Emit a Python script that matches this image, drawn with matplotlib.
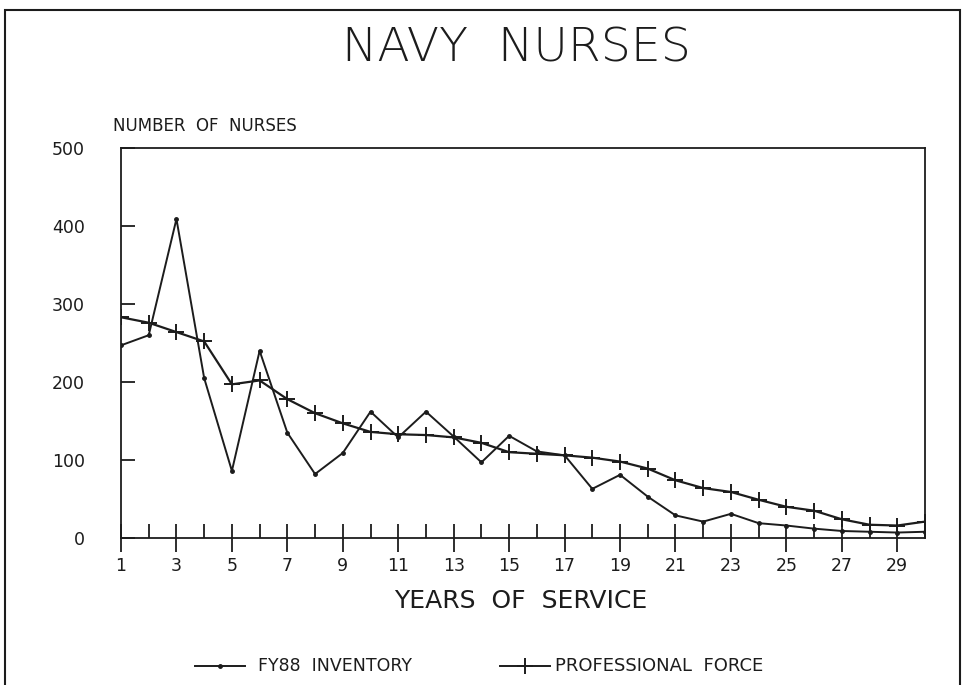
import matplotlib
matplotlib.use("Agg")
import matplotlib.pyplot as plt
from matplotlib.lines import Line2D
from matplotlib.patches import Rectangle

years = list(range(1, 31))
fy88_inventory = [247, 260, 409, 205, 86, 240, 135, 82, 109, 162,
                  129, 162, 130, 97, 131, 111, 106, 63, 81, 53,
                  29, 21, 31, 19, 16, 12, 9, 8, 7, 8]
professional_force = [283, 276, 264, 252, 197, 202, 178, 160, 147, 136,
                      133, 132, 129, 122, 110, 108, 106, 103, 98, 89,
                      74, 64, 59, 49, 40, 35, 24, 17, 16, 21]
x_labels = [str(v) for v in range(1, 30, 2)]
y_ticks = [0, 100, 200, 300, 400, 500]

ink = "#1c1c1c"

fig = plt.figure(figsize=(9.66, 6.85), dpi=100)
ax = fig.add_axes([121 / 966, 1 - 538 / 685, (925 - 121) / 966, (538 - 148) / 685])

ax.plot(years, fy88_inventory, color=ink, lw=1.4, marker="o", ms=2.5)
ax.plot(years, professional_force, color=ink, lw=1.6, marker="+", ms=11, mew=1.4)

ax.set_xlim(1, 30)
ax.set_ylim(0, 500)
ax.set_yticks(y_ticks)
ax.set_yticklabels([str(v) for v in y_ticks], fontsize=12.5, color=ink)
ax.tick_params(axis="y", direction="in", length=10, width=1.3, pad=26, colors=ink)

# odd years get labelled ticks crossing the axis, even years short inner ticks
ax.set_xticks(range(1, 30, 2))
ax.set_xticklabels(x_labels, fontsize=12.5, color=ink)
ax.set_xticks(range(2, 31, 2), minor=True)
ax.tick_params(axis="x", which="major", direction="inout", length=20, width=1.3, pad=4, colors=ink)
ax.tick_params(axis="x", which="minor", direction="in", length=10, width=1.3, colors=ink)

for s in ax.spines.values():
    s.set_linewidth(1.3)
    s.set_color(ink)

fig.text(516 / 966, 1 - 49 / 685, "NAVY  NURSES",
         ha="center", va="center", fontsize=34, fontweight="light", color=ink)
fig.text(113 / 966, 1 - 126 / 685, "NUMBER  OF  NURSES", ha="left", va="center",
         fontsize=12, color=ink)
fig.text(521 / 966, 1 - 601 / 685, "YEARS  OF  SERVICE", ha="center", va="center",
         fontsize=18, color=ink)

# legend drawn by hand at the bottom
ly = 1 - 666 / 685
fig.add_artist(Line2D([195 / 966, 245 / 966], [ly, ly], color=ink, lw=1.4))
fig.add_artist(Line2D([220 / 966], [ly], color=ink, marker="o", ms=2.5, lw=0))
fig.text(258 / 966, ly, "FY88  INVENTORY", ha="left", va="center", fontsize=12.5, color=ink)
fig.add_artist(Line2D([500 / 966, 550 / 966], [ly, ly], color=ink, lw=1.4))
fig.add_artist(Line2D([525 / 966], [ly], color=ink, marker="+", ms=11, mew=1.4, lw=0))
fig.text(555 / 966, ly, "PROFESSIONAL  FORCE", ha="left", va="center", fontsize=13, color=ink)

# outer frame of the page
fig.add_artist(Rectangle((5 / 966, -0.05), 955 / 966, 1.05 - 10 / 685, transform=fig.transFigure,
                         fill=False, lw=1.5, edgecolor=ink))

fig.savefig("out.png", dpi=100)
